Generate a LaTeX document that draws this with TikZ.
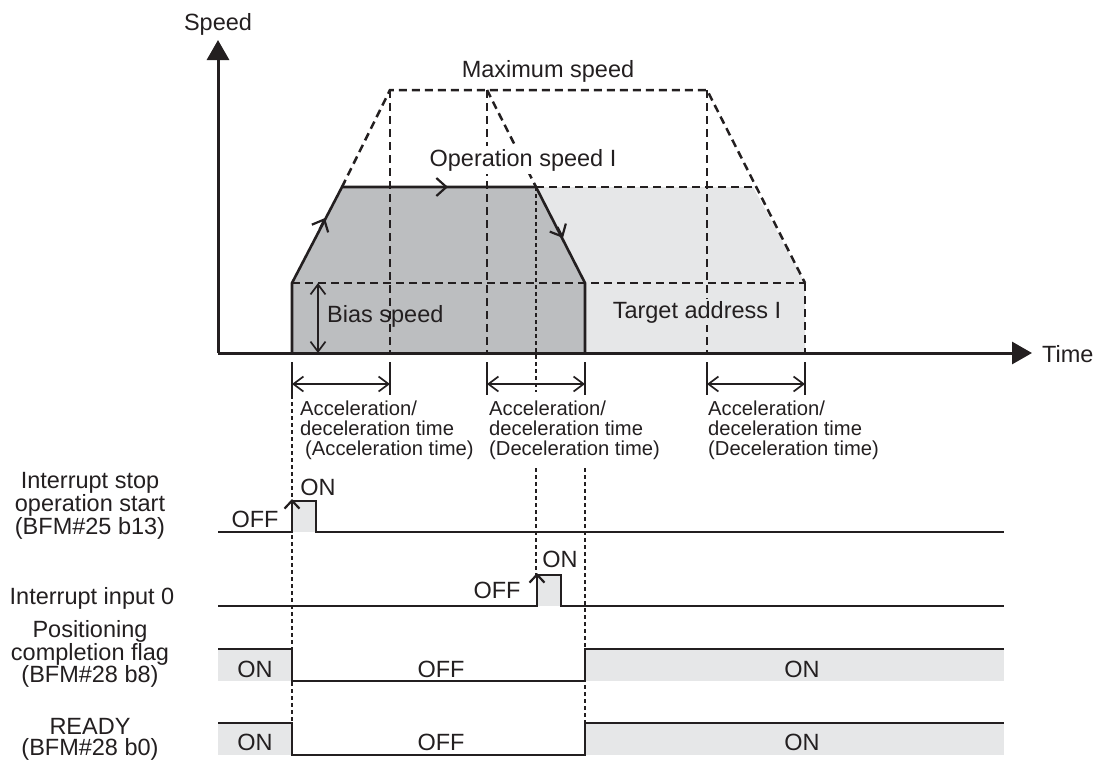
\documentclass[tikz,border=0pt]{standalone}
\usepackage{fontspec}
\setmainfont{Liberation Sans}
\usetikzlibrary{arrows.meta}
\definecolor{darkfill}{HTML}{BCBEC0}
\definecolor{lightfill}{HTML}{E6E7E8}
\definecolor{ink}{HTML}{231F20}
\tikzset{
  lbl/.style={font=\fontsize{23.5}{24}\selectfont, inner sep=0pt, text=ink},
  acclbl/.style={font=\fontsize{20.2}{20}\selectfont, align=left, inner sep=0pt, anchor=west, text=ink},
  sidelbl/.style={font=\fontsize{23.5}{21}\selectfont, align=center, inner sep=0pt, text=ink},
  thickdash/.style={draw=ink, line width=2.5pt, dash pattern=on 8pt off 5pt},
  thindash/.style={draw=ink, line width=1.4pt, dash pattern=on 4pt off 3pt},
  profile/.style={draw=ink, line width=2.6pt, line join=miter},
  sig/.style={draw=ink, line width=2.6pt, line join=miter},
  axisline/.style={draw=ink, line width=3pt, -{Triangle[length=20pt,width=22pt]}},
  dimarrow/.style={draw=ink, line width=1.7pt, {Straight Barb[length=10pt,width=15pt]}-{Straight Barb[length=10pt,width=15pt]}},
  tickline/.style={draw=ink, line width=1.8pt},
  chev/.style={draw=ink, line width=2.2pt, -{Straight Barb[length=10pt,width=18pt]}},
  edgechev/.style={draw=ink, line width=2.2pt, -{Straight Barb[length=8pt,width=15pt]}},
}
\begin{document}
\begin{tikzpicture}[x=1pt,y=-1pt]
\useasboundingbox (0,0) rectangle (1098,764);
% key coordinates
\coordinate (o) at (218,353);
\coordinate (ytip) at (218,40);
\coordinate (xtip) at (1032,353);
\coordinate (b0) at (292,353);
\coordinate (b1) at (292,283);
\coordinate (p1) at (342,187);
\coordinate (p2) at (536,187);
\coordinate (b2) at (585,283);
\coordinate (b3) at (585,353);
\coordinate (m1) at (390,90);
\coordinate (m2) at (487,90);
\coordinate (m3) at (707,90);
\coordinate (q1) at (753,187);
\coordinate (q2) at (805,283);
\coordinate (q3) at (805,353);

% fills
\fill[lightfill] (b3) -- (b2) -- (p2) -- (q1) -- (q2) -- (q3) -- cycle;
\fill[darkfill] (b0) -- (b1) -- (p1) -- (p2) -- (b2) -- (b3) -- cycle;

% dashed construction lines
\draw[thickdash] (p1) -- (m1) -- (m3) -- (q2);
\draw[thickdash] (m2) -- (p2);
\draw[thickdash] (p2) -- (q1);
\draw[thickdash] (b1) -- (q2);
\draw[thickdash] (q2) -- (q3);
\draw[thickdash] (m1) -- (390,353);
\draw[thickdash] (m2) -- (487,353);
\draw[thickdash] (m3) -- (707,353);

% thin dashed guide lines
\draw[thindash] (292,395) -- (292,723);
\draw[thindash] (p2) -- (536,392);
\draw[thindash] (536,468) -- (536,575);
\draw[thindash] (585,468) -- (585,723);

% profile
\draw[profile] (b0) -- (b1) -- (p1) -- (p2) -- (b2) -- (b3);
\draw[chev] (319.5,229.6) -- (325,218);
\draw[chev] (436,187) -- (448,187);
\draw[chev] (557.5,227) -- (563,238);

% axes
\draw[axisline] (o) -- (ytip);
\draw[axisline] (o) -- (xtip);

% bias arrow
\draw[dimarrow] (318,283) -- (318,353);

% ticks and dimension arrows
\foreach \x in {292,390,487,585,707,805} {\draw[tickline] (\x,362) -- (\x,395);}
\draw[dimarrow] (292,384) -- (390,384);
\draw[dimarrow] (487,384) -- (585,384);
\draw[dimarrow] (707,384) -- (805,384);

% labels top
\node[lbl, anchor=base] (speed) at (218,30) {Speed};
\node[lbl, anchor=base] (maxs) at (548,77) {Maximum speed};
\node[lbl, anchor=base, fill=white, inner ysep=3pt, inner xsep=2pt] (ops) at (523,166) {Operation speed I};
\node[lbl, anchor=base west] (bias) at (327,322) {Bias speed};
\node[lbl, anchor=base, fill=lightfill, inner sep=2pt] (tgt) at (697,318) {Target address I};
\node[lbl, anchor=base west] (time) at (1042,362) {Time};

\node[acclbl] (acc1) at (300,430) {Acceleration/\\deceleration time\\\hspace{5pt}(Acceleration time)};
\node[acclbl] (acc2) at (489,430) {Acceleration/\\deceleration time\\(Deceleration time)};
\node[acclbl] (acc3) at (708,430) {Acceleration/\\deceleration time\\(Deceleration time)};

% side labels
\node[sidelbl] (s1) at (90,506) {Interrupt stop\\operation start\\(BFM\#25 b13)};
\node[sidelbl] (s2) at (92,598) {Interrupt input 0};
\node[sidelbl] (s3) at (90,654) {Positioning\\completion flag\\(BFM\#28 b8)};
\node[sidelbl] (s4) at (90,739) {READY\\(BFM\#28 b0)};

% row 1: interrupt stop operation start
\fill[lightfill] (292,501) rectangle (316,532);
\draw[sig] (218,532) -- (292,532) -- (292,501) -- (316,501) -- (316,532) -- (1004,532);
\draw[edgechev] (292,516) -- (292,499);
\node[lbl, anchor=base] (off1) at (255,527) {OFF};
\node[lbl, anchor=base] (on1) at (318,495) {ON};

% row 2: interrupt input 0
\fill[lightfill] (537,575) rectangle (561,606);
\draw[sig] (218,606) -- (537,606) -- (537,575) -- (561,575) -- (561,606) -- (1004,606);
\draw[edgechev] (537,590) -- (537,573);
\node[lbl, anchor=base] (off2) at (497,598) {OFF};
\node[lbl, anchor=base] (on2) at (560,567) {ON};

% row 3: positioning completion flag
\fill[lightfill] (218,649) rectangle (292,681);
\fill[lightfill] (585,649) rectangle (1004,681);
\draw[sig] (218,649) -- (292,649) -- (292,681) -- (585,681) -- (585,649) -- (1004,649);
\node[lbl, anchor=base] (on3a) at (255,677) {ON};
\node[lbl, anchor=base] (off3) at (441,677) {OFF};
\node[lbl, anchor=base] (on3b) at (802,677) {ON};

% row 4: READY
\fill[lightfill] (218,723) rectangle (292,755);
\fill[lightfill] (585,723) rectangle (1004,755);
\draw[sig] (218,723) -- (292,723) -- (292,755) -- (585,755) -- (585,723) -- (1004,723);
\node[lbl, anchor=base] (on4a) at (255,750) {ON};
\node[lbl, anchor=base] (off4) at (441,750) {OFF};
\node[lbl, anchor=base] (on4b) at (802,750) {ON};
\end{tikzpicture}
\end{document}
